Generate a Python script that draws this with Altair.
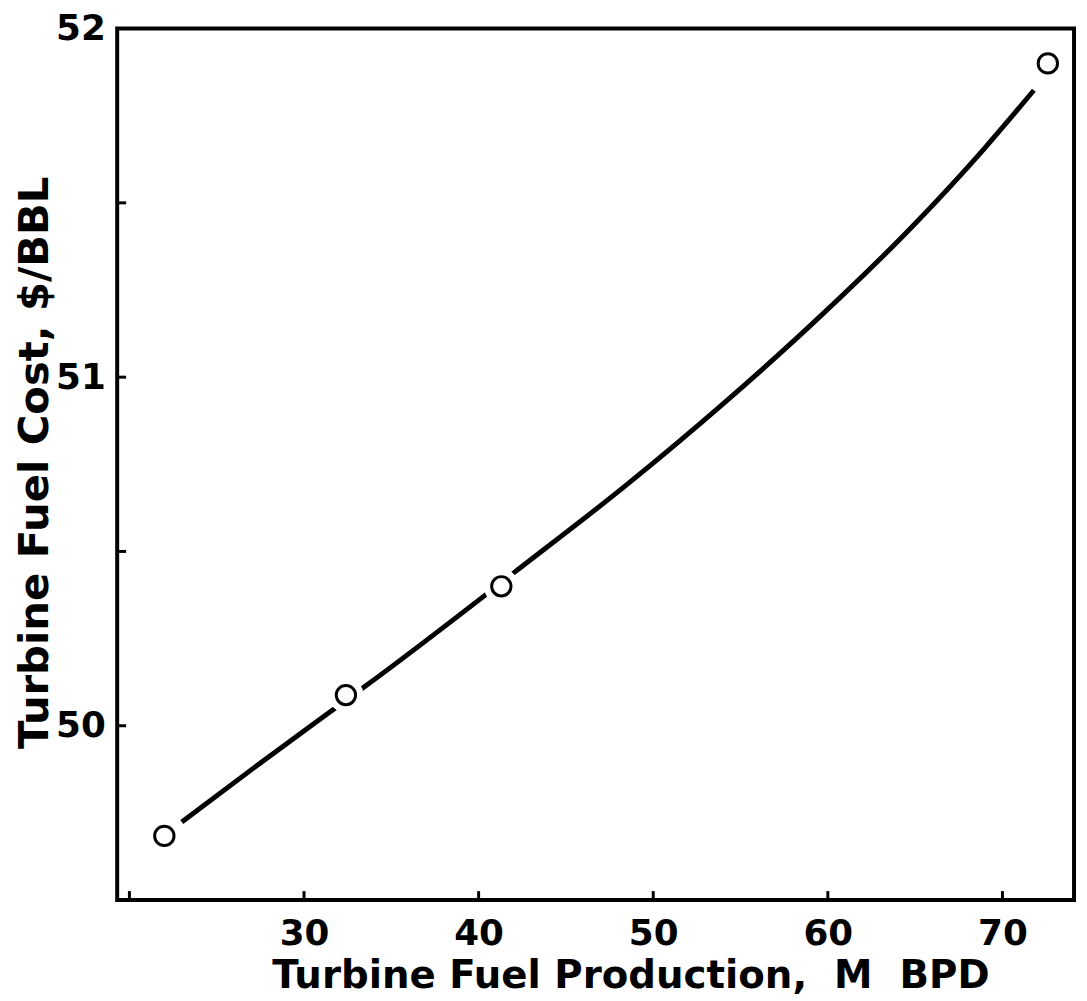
import altair as alt
import pandas as pd

# Observed data points (open circles)
pt_x = [22.0, 32.4, 41.3, 72.6]
pt_y = [49.684, 50.088, 50.40, 51.90]

# Fitted curve
curve_x = [23.0, 27.6, 31.5, 33.5, 40.1, 42.1, 48.4, 53.9, 59.3, 64.7, 69.0, 71.8]
curve_y = [49.724, 49.897, 50.040, 50.113, 50.364, 50.442, 50.688, 50.919, 51.162, 51.425, 51.658, 51.823]

# Axes
x_domain = [19.3, 74.1]
y_domain = [49.5, 52.0]
x_tick_vals = [20, 30, 40, 50, 60, 70]
x_label_vals = [30, 40, 50, 60, 70]
y_tick_vals = [50.0, 50.5, 51.0, 51.5]
y_label_vals = [50, 51, 52]

W, H = 964, 878
FONT = "DejaVu Sans"

pts = pd.DataFrame({"x": pt_x, "y": pt_y})
curve = pd.DataFrame({"x": curve_x, "y": curve_y})

tick_len_y = (y_domain[1] - y_domain[0]) * 9 / H
tick_len_x = (x_domain[1] - x_domain[0]) * 9 / W
xt = pd.DataFrame({"x": x_tick_vals, "y": [y_domain[0]] * len(x_tick_vals),
                   "y2": [y_domain[0] + tick_len_y] * len(x_tick_vals)})
yt = pd.DataFrame({"y": y_tick_vals, "x": [x_domain[0]] * len(y_tick_vals),
                   "x2": [x_domain[0] + tick_len_x] * len(y_tick_vals)})

xs = alt.Scale(domain=x_domain, nice=False, zero=False)
ys = alt.Scale(domain=y_domain, nice=False, zero=False)

x_axis = alt.Axis(values=x_label_vals, format="d", tickSize=0, ticks=False, domain=False, grid=False,
                  labelFont=FONT, labelFontSize=36, labelFontWeight="bold", labelColor="black",
                  labelPadding=17, labelFlush=False,
                  title="Turbine Fuel Production,\u00a0\u00a0M\u00a0\u00a0BPD", titleFont=FONT, titleFontSize=39,
                  titleFontWeight="bold", titleColor="black", titleX=517, titleY=88,
                  titleAlign="center", titleBaseline="alphabetic")
y_axis = alt.Axis(values=y_label_vals, format="d", tickSize=0, ticks=False, domain=False, grid=False,
                  labelFont=FONT, labelFontSize=36, labelFontWeight="bold", labelColor="black",
                  labelPadding=12, labelFlush=False, labelBaseline="middle",
                  title="Turbine Fuel Cost, $/BBL", titleFont=FONT, titleFontSize=42,
                  titleFontWeight="bold", titleColor="black", titleAngle=270,
                  titleX=-70, titleY=437, titleAlign="center", titleBaseline="alphabetic")

line = alt.Chart(curve).mark_line(color="black", strokeWidth=5, interpolate="monotone").encode(
    x=alt.X("x:Q", scale=xs, axis=x_axis),
    y=alt.Y("y:Q", scale=ys, axis=y_axis),
)
halo = alt.Chart(pts).mark_point(shape="circle", filled=True, fill="white", color="white",
                                 size=1250, opacity=1, strokeWidth=0).encode(
    x=alt.X("x:Q", scale=xs), y=alt.Y("y:Q", scale=ys))
circles = alt.Chart(pts).mark_point(shape="circle", filled=True, fill="white", stroke="black",
                                    strokeWidth=3, size=380, opacity=1).encode(
    x=alt.X("x:Q", scale=xs), y=alt.Y("y:Q", scale=ys))
xticks = alt.Chart(xt).mark_rule(color="black", strokeWidth=3).encode(
    x=alt.X("x:Q", scale=xs), y=alt.Y("y:Q", scale=ys), y2="y2:Q")
yticks = alt.Chart(yt).mark_rule(color="black", strokeWidth=3).encode(
    y=alt.Y("y:Q", scale=ys), x=alt.X("x:Q", scale=xs), x2="x2:Q")

chart = alt.layer(line, halo, circles, xticks, yticks).properties(
    width=W, height=H,
    autosize=alt.AutoSizeParams(type="none"),
    padding={"left": 110, "top": 17, "right": 5, "bottom": 96},
    background="white",
).configure_view(stroke="black", strokeWidth=4)

chart.save("out.html", embed_options={"renderer": "svg", "actions": False})
